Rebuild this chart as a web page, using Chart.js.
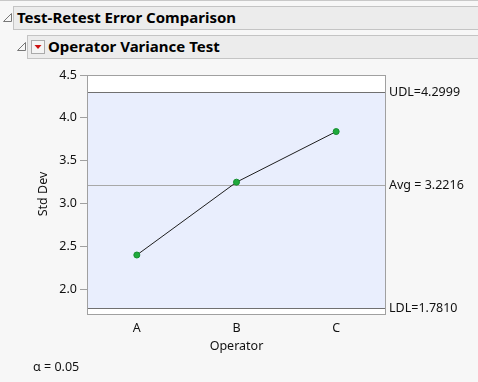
<!DOCTYPE html>
<html>
<head>
<meta charset="utf-8">
<script src="https://cdn.jsdelivr.net/npm/chart.js@4"></script>
<style>
  html, body { margin: 0; padding: 0; background: #f7f7f7; }
  body { width: 478px; height: 382px; position: relative; overflow: hidden; font-family: "Noto Sans", sans-serif; }
  .topline { position: absolute; left: 0; top: 0; width: 478px; height: 1px; background: #c8c8c8; }
  .bar { position: absolute; background: #ececec; border: 1px solid #c4c4c4; border-right: none; box-sizing: border-box;
         font-weight: bold; font-size: 15px; color: #000; line-height: 21px; }
  .tri { position: absolute; }
  #chartBox { position: absolute; left: 0; top: 0; width: 478px; height: 382px; }
</style>
</head>
<body>
<div class="topline"></div>
<svg class="tri" style="left:3px;top:13px" width="9" height="9"><path d="M8.5 0.5 L8.5 8.5 L0.5 8.5 Z" fill="none" stroke="#777" stroke-width="1"/></svg>
<div class="bar" style="left:13px;top:6px;width:465px;height:24px;padding-left:3px;">Test-Retest Error Comparison</div>
<svg class="tri" style="left:17px;top:42px" width="9" height="9"><path d="M8.5 0.5 L8.5 8.5 L0.5 8.5 Z" fill="none" stroke="#777" stroke-width="1"/></svg>
<div class="bar" style="left:27px;top:35px;width:451px;height:24px;padding-left:20px;">Operator Variance Test</div>
<svg class="tri" style="left:31px;top:40px" width="14" height="14"><rect x="0.5" y="0.5" width="13" height="13" fill="#f4f4f4" stroke="#aaa"/><path d="M3.5 5 L10.5 5 L7 9 Z" fill="#cc1111"/></svg>
<div id="chartBox"><canvas id="c" width="478" height="382"></canvas></div>
<script>
const operators = ['A', 'B', 'C'];
const stdDevs = [2.40, 3.25, 3.84];
const yTicks = [2.0, 2.5, 3.0, 3.5, 4.0, 4.5];
const udl = 4.2999;
const avg = 3.2216;
const ldl = 1.7810;
const limitLabels = ['UDL=4.2999', 'Avg = 3.2216', 'LDL=1.7810'];

const limitsPlugin = {
  id: 'limits',
  beforeDatasetsDraw(chart) {
    const { ctx, chartArea: a, scales: { y } } = chart;
    const yu = Math.round(y.getPixelForValue(udl)) + 0.5;
    const ya = Math.round(y.getPixelForValue(avg)) + 0.5;
    const yl = Math.round(y.getPixelForValue(ldl)) + 0.5;
    ctx.save();
    ctx.fillStyle = '#ffffff';
    ctx.fillRect(a.left, a.top, a.width, a.height);
    ctx.fillStyle = '#e9eefd';
    ctx.fillRect(a.left, yu, a.width, yl - yu);
    ctx.lineWidth = 1;
    ctx.strokeStyle = '#a8a8a8';
    ctx.beginPath(); ctx.moveTo(a.left, ya); ctx.lineTo(a.right, ya); ctx.stroke();
    ctx.strokeStyle = '#707070';
    ctx.beginPath();
    ctx.moveTo(a.left, yu); ctx.lineTo(a.right, yu);
    ctx.moveTo(a.left, yl); ctx.lineTo(a.right, yl);
    ctx.stroke();
    ctx.strokeStyle = '#a0a0a0';
    ctx.strokeRect(a.left + 0.5, a.top + 0.5, a.width - 1, a.height - 1);
    ctx.fillStyle = '#111';
    ctx.font = '12.5px "Noto Sans"';
    ctx.textBaseline = 'middle';
    ctx.textAlign = 'left';
    ctx.fillText(limitLabels[0], a.right + 3, yu);
    ctx.fillText(limitLabels[1], a.right + 3, ya);
    ctx.fillText(limitLabels[2], a.right + 3, yl);
    ctx.fillText('\u03b1 = 0.05', 33, 367);
    // axis titles
    ctx.textAlign = 'center';
    ctx.fillText('Operator', (a.left + a.right) / 2, 346);
    ctx.translate(43, 194);
    ctx.rotate(-Math.PI / 2);
    ctx.fillText('Std Dev', 0, 0);
    ctx.restore();
  }
};

new Chart(document.getElementById('c'), {
  type: 'line',
  data: {
    labels: operators,
    datasets: [{
      data: stdDevs,
      borderColor: '#1e1e1e',
      borderWidth: 1,
      pointRadius: 3,
      pointBackgroundColor: '#1faa3c',
      pointBorderColor: '#168f30',
      pointBorderWidth: 1,
      tension: 0
    }]
  },
  options: {
    responsive: false,
    animation: false,
    layout: { padding: { top: 75, right: 92, bottom: 0, left: 0 } },
    scales: {
      x: {
        offset: true,
        grid: { display: false, drawTicks: false },
        border: { display: false },
        ticks: { color: '#111', font: { family: 'Noto Sans', size: 12.5 }, padding: 6 },
        afterFit: s => { s.height = 67; }
      },
      y: {
        min: 1.70,
        max: 4.5,
        afterBuildTicks: s => { s.ticks = yTicks.map(v => ({ value: v })); },
        grid: { display: true, drawOnChartArea: false, drawTicks: true, tickLength: 7, color: '#a0a0a0' },
        border: { display: false },
        ticks: { color: '#111', font: { family: 'Noto Sans', size: 12.5 }, padding: 3, callback: v => v.toFixed(1) },
        afterFit: s => { s.width = 87; }
      }
    },
    plugins: { legend: { display: false }, tooltip: { enabled: false } }
  },
  plugins: [limitsPlugin]
});
</script>
</body>
</html>
